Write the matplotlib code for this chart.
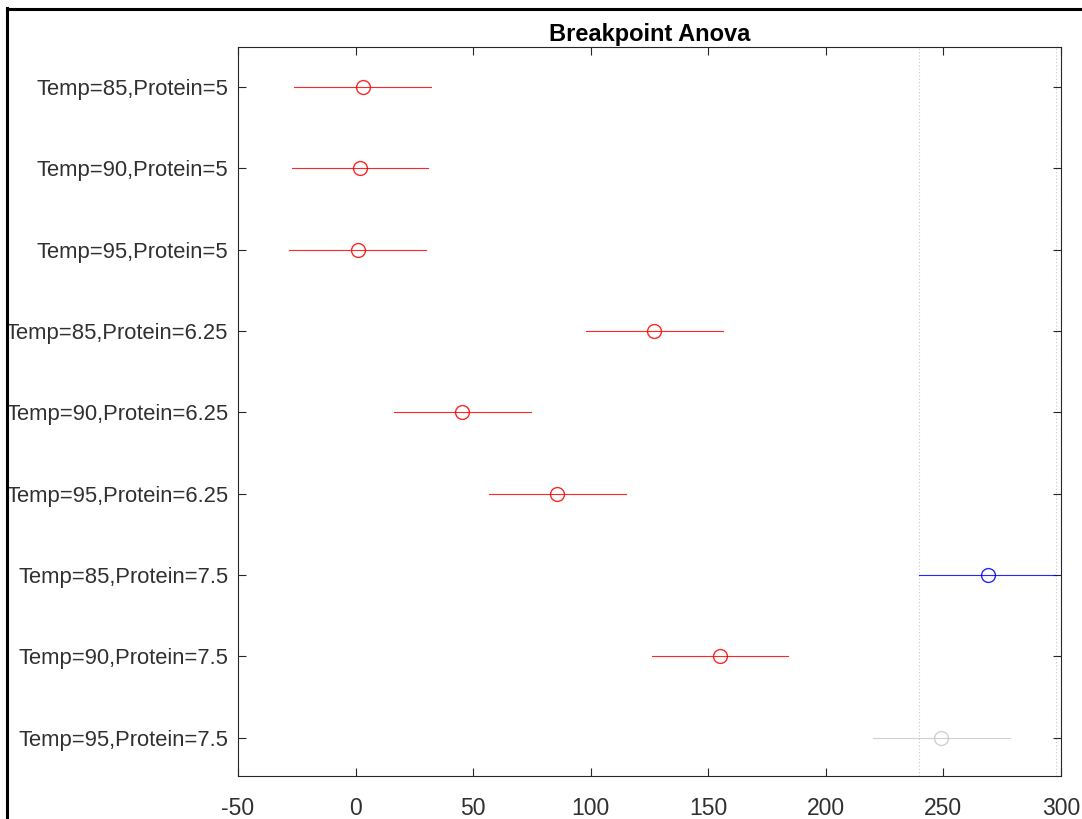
import matplotlib.pyplot as plt
from matplotlib.lines import Line2D

plt.rcParams['font.family'] = ['Liberation Sans', 'DejaVu Sans']

# group labels, estimated group means and comparison interval half-widths
groups = ["Temp=85,Protein=5", "Temp=90,Protein=5", "Temp=95,Protein=5",
          "Temp=85,Protein=6.25", "Temp=90,Protein=6.25", "Temp=95,Protein=6.25",
          "Temp=85,Protein=7.5", "Temp=90,Protein=7.5", "Temp=95,Protein=7.5"]
means = [3.1, 1.9, 1.0, 127.0, 45.3, 85.7, 268.8, 155.0, 249.1]
halfwidth = [29.1, 29.1, 29.1, 29.1, 29.1, 29.1, 29.1, 29.1, 29.1]
# 'sel' = selected group, 'sig' = significantly different, 'ns' = not significant
status = ["sig", "sig", "sig", "sig", "sig", "sig", "sel", "sig", "ns"]
xticks = [-50, 0, 50, 100, 150, 200, 250, 300]

colors = {"sel": "#0000ff", "sig": "#ff0000", "ns": "#c8c8c8"}

fig = plt.figure(figsize=(10.82, 8.19), dpi=100)
ax = fig.add_axes([238 / 1082, 1 - 776 / 819, (1061 - 238) / 1082, (776 - 47) / 819])

ypos = list(range(1, len(groups) + 1))
for y, m, h, s in zip(ypos, means, halfwidth, status):
    c = colors[s]
    ax.plot([m - h, m + h], [y, y], color=c, lw=0.8, alpha=0.85)
    ax.plot(m, y, 'o', mfc='none', mec=c, ms=10, mew=1.0, alpha=0.85)

# dotted bounds of the selected group's interval
sel = status.index("sel")
for b in (means[sel] - halfwidth[sel], means[sel] + halfwidth[sel]):
    ax.axvline(b, color='#c8c8c8', lw=0.8, ls=(0, (1, 2)), zorder=0)

ax.set_xlim(-50, 300)
ax.set_ylim(len(groups) + 0.47, 0.51)
ax.set_xticks(xticks)
ax.set_xticklabels([str(t) for t in xticks])
ax.set_yticks(ypos)
ax.set_yticklabels(groups)
ax.tick_params(direction='in', top=True, right=True, length=6, width=0.8,
               color='#262626', labelcolor='#303030')
ax.tick_params(axis='y', labelsize=15.8, pad=7)
ax.tick_params(axis='x', labelsize=16.5, pad=15)
for sp in ax.spines.values():
    sp.set_color('#262626')
    sp.set_linewidth(0.8)

ax.set_title("Breakpoint Anova", fontsize=17, fontweight='bold', pad=4)

# outer frame edges
fig.add_artist(Line2D([7 / 1082, 7 / 1082], [0, 1 - 8 / 819], color='black', lw=2.2))
fig.add_artist(Line2D([7 / 1082, 1], [1 - 9 / 819, 1 - 9 / 819], color='black', lw=2.2))

fig.savefig("out.png", dpi=100)
